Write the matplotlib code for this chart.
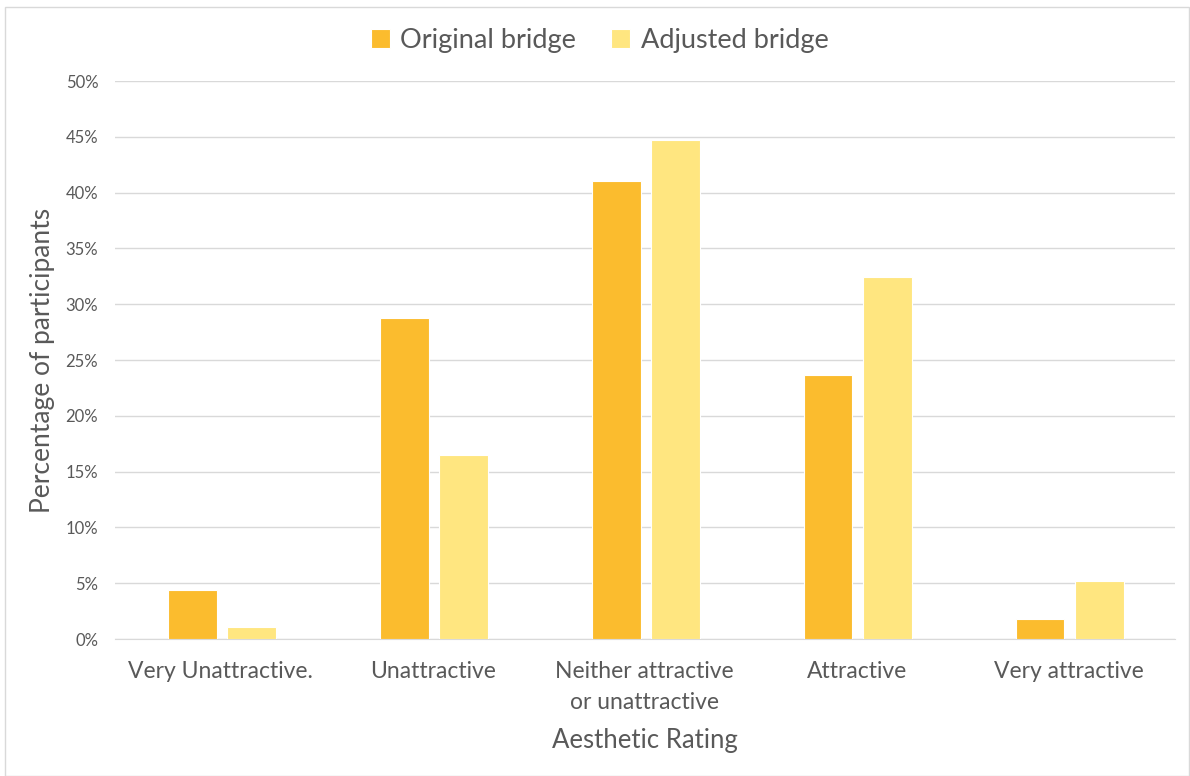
import numpy as np
import matplotlib.pyplot as plt
from matplotlib.patches import Rectangle
from matplotlib.ticker import PercentFormatter

categories = ['Very Unattractive.', 'Unattractive', 'Neither attractive\nor unattractive', 'Attractive', 'Very attractive']
original = [4.4, 28.8, 41.0, 23.7, 1.8]
adjusted = [1.1, 16.5, 44.7, 32.4, 5.2]

plt.rcParams['font.family'] = ['Lato', 'DejaVu Sans']
grey = '#595959'

fig = plt.figure(figsize=(11.9, 7.76), dpi=100)
ax = fig.add_axes([0.0966, 0.1765, 0.8904, 0.7191])

x = np.arange(len(categories))
w = 0.23
ax.bar(x - 0.135, original, w, color='#FBBC2E', edgecolor='white', linewidth=0.8, label='Original bridge', zorder=3)
ax.bar(x + 0.145, adjusted, w, color='#FFE680', edgecolor='white', linewidth=0.8, label='Adjusted bridge', zorder=3)

ax.set_xlim(-0.5, len(categories) - 0.5)
ax.set_ylim(0, 50)
ax.set_yticks(np.arange(0, 51, 5))
ax.yaxis.set_major_formatter(PercentFormatter(decimals=0))
ax.set_xticks(x)
ax.set_xticklabels(categories, fontsize=16.5, color=grey, linespacing=1.55)
ax.tick_params(axis='y', labelsize=12, colors=grey, length=0, pad=12)
ax.tick_params(axis='x', length=0, pad=16)
ax.grid(axis='y', color='#D9D9D9', linewidth=1, zorder=0)
for s in ['top', 'right', 'left']:
    ax.spines[s].set_visible(False)
ax.spines['bottom'].set_color('#D9D9D9')

ax.set_xlabel('Aesthetic Rating', fontsize=18.5, color=grey, labelpad=11)
ax.set_ylabel('Percentage of participants', fontsize=19, color=grey, labelpad=8)

fig.legend(loc='center', bbox_to_anchor=(0.504, 0.948), ncol=2, frameon=False,
           fontsize=19.5, labelcolor=grey, handlelength=0.7, handleheight=0.7,
           columnspacing=1.3, handletextpad=0.4)

fig.patches.append(Rectangle((0.004, 0.0), 0.995, 0.991, transform=fig.transFigure,
                             fill=False, edgecolor='#D9D9D9', linewidth=1))

fig.savefig('out.png', dpi=100)
